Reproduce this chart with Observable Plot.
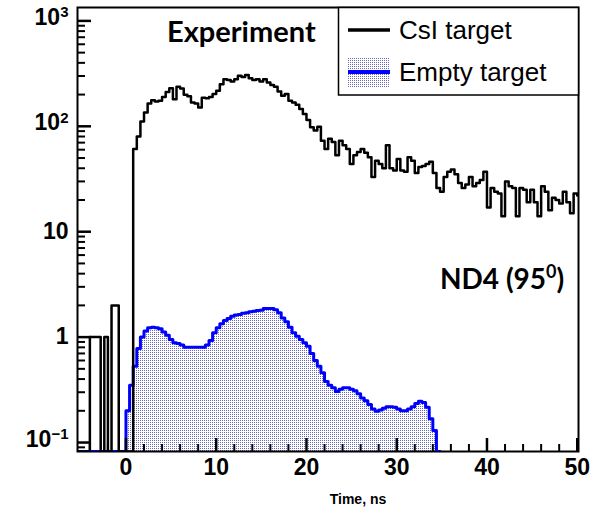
<!DOCTYPE html>
<html><head><meta charset="utf-8">
<script src="https://cdn.jsdelivr.net/npm/d3@7"></script>
<script src="https://cdn.jsdelivr.net/npm/@observablehq/plot@0.6"></script>
<style>
body{margin:0;background:#fff;}
#wrap{position:relative;width:616px;height:511px;overflow:hidden;}
</style></head><body><div id="wrap"></div>
<script>
// ---- data ----
const binWidth = 0.4; // ns
const csiFirstBin = -5.6;
const csiCounts = [
  0,0,0,0, 1,1,1,0,1,0,2,2, 0,0,0,0,
  61,80,111,135,165,177,172,175,190,212,230,181,237,228,199,193,168,165,151,187,185,190,202,217,
  250,280,275,266,280,301,294,307,286,275,280,266,280,260,247,237,214,195,202,175,168,160,
  146,131,115,98,91,99,73,61,76,71,53,73,66,61,44,53,57,61,56,51,33,47,44,40,66,40,38,49,38,37,51,47,36,41,
  42,44,46,36,26,24,33,37,39,35,29,26,28,33,27,29,31,37,17,26,24,23,14,30,27,26,14,26,25,19,
  25,19,14,27,24,16,21,20,18.5,24,19,15,23,22
];
const emptyFirstBin = -5.6;
const emptyCounts = [
  0,0,0,0,0,0,0,0,0,0,0,0,0,0,
  0.20,0.35,0.53,0.78,1.00,1.14,1.23,1.24,1.23,1.20,1.12,1.04,0.95,0.885,0.87,0.84,0.80,0.80,0.80,0.80,0.80,0.80,
  0.84,0.93,1.10,1.23,1.34,1.44,1.50,1.58,1.62,1.64,1.68,1.70,1.74,1.76,1.79,1.80,1.87,1.87,1.87,1.82,1.70,1.52,
  1.40,1.24,1.10,1.02,0.95,0.885,0.82,0.70,0.60,0.53,0.46,0.38,0.35,0.33,0.305,0.32,0.33,0.33,0.32,0.31,0.29,
  0.264,0.249,0.229,0.208,0.198,0.204,0.212,0.219,0.219,0.216,0.208,0.20,0.20,0.208,0.219,0.235,0.246,0.24,0.216,
  0.168,0.13,0
];
const seriesNames = ["CsI target", "Empty target"];
const xDomain = [-5.37, 50.14];
const yDomain = [0.0822, 1340];
const xMajorTicks = [0, 10, 20, 30, 40, 50];
const xMinorTicks = [-4,-2,2,4,6,8,12,14,16,18,22,24,26,28,32,34,36,38,42,44,46,48];
const yMajorTicks = [0.1, 1, 10, 100, 1000];
const yTickLabels = ["10^\u22121", "1", "10", "10^2", "10^3"];
const yMinorMultipliers = [2,3,4,5,6,7,8,9];
const xTitle = "Time, ns";
const labelExperiment = "Experiment";
const labelDetector = ["ND4 (95", "0", ")"];

// ---- layout ----
const W = 616, H = 511, mL = 77, mR = 38, mT = 7, mB = 60;
const plotW = W - mL - mR, plotH = H - mT - mB;

// ---- build step outlines ----
const yFloor = yDomain[0];
function steps(first, counts) {
  const pts = counts.map((v, i) => ({x: first + i * binWidth, y: Math.max(v, yFloor)}));
  pts.push({x: first + counts.length * binWidth, y: Math.max(counts[counts.length - 1], yFloor)});
  return pts;
}
const csi = steps(csiFirstBin, csiCounts);
const empty = steps(emptyFirstBin, emptyCounts);
const yMinorTicks = [0.01, 0.1, 1, 10, 100]
  .flatMap(d => yMinorMultipliers.map(m => d * m))
  .filter(v => v >= yDomain[0] && v <= yDomain[1]);

// inward tick marks, lengths given in pixels and converted to data units
const xPerPx = (xDomain[1] - xDomain[0]) / plotW;
const logPerPx = (Math.log10(yDomain[1]) - Math.log10(yDomain[0])) / plotH;
const ticksY = (ticks, len, w) => Plot.ruleY(ticks, {y: d => d, x1: () => xDomain[0], x2: () => xDomain[0] + len * xPerPx, stroke: "black", strokeWidth: w});
const ticksX = (ticks, len, w) => Plot.ruleX(ticks, {x: d => d, y1: () => yFloor, y2: () => yFloor * Math.pow(10, len * logPerPx), stroke: "black", strokeWidth: w});

const svg = Plot.plot({
  width: W, height: H,
  marginLeft: mL, marginRight: mR, marginTop: mT, marginBottom: mB,
  style: {fontFamily: "'Liberation Sans', Arial, sans-serif", background: "white", color: "black"},
  x: {domain: xDomain, label: null},
  y: {type: "log", domain: yDomain, label: null},
  marks: [
    Plot.areaY(empty, {x: "x", y1: () => yFloor, y2: "y", curve: "step-after", fill: "url(#dots)", clip: true}),
    Plot.frame({stroke: "black", strokeWidth: 2}),
    Plot.lineY(empty, {x: "x", y: "y", curve: "step-after", stroke: "#0000ff", strokeWidth: 3, clip: true}),
    Plot.lineY(csi, {x: "x", y: "y", curve: "step-after", stroke: "black", strokeWidth: 2.5, clip: true}),
    ticksY(yMajorTicks, 14, 2.5),
    ticksY(yMinorTicks, 8, 2),
    ticksX(xMajorTicks, 13, 2.5),
    ticksX(xMinorTicks, 7, 2),
    Plot.axisY({ticks: yMajorTicks, anchor: "left", tickSize: 0, tickPadding: 9,
      tickFormat: d => yTickLabels[yMajorTicks.indexOf(d)], fontSize: 23, fontWeight: "bold", label: null}),
    Plot.axisX({ticks: xMajorTicks, anchor: "bottom", tickSize: 0, tickPadding: 7,
      tickFormat: d => String(d), fontSize: 23, fontWeight: "bold", label: null})
  ]
});
document.getElementById("wrap").appendChild(svg);

// ---- post-processing: pattern, superscripts, annotations, legend ----
const ns = "http://www.w3.org/2000/svg";
const s = d3.select(svg);
const pat = s.insert("defs", ":first-child").append("pattern")
  .attr("id", "dots").attr("patternUnits", "userSpaceOnUse").attr("width", 2).attr("height", 2);
pat.append("rect").attr("width", 2).attr("height", 2).attr("fill", "white");
pat.append("rect").attr("width", 1).attr("height", 1).attr("fill", "#6a6ab8");

s.selectAll("text").each(function() {
  const t = this.textContent;
  const m = t.match(/^(\d+)\^(.+)$/);
  if (m) {
    this.textContent = m[1];
    const ts = document.createElementNS(ns, "tspan");
    ts.setAttribute("dy", "-0.5em");
    ts.setAttribute("font-size", "15");
    ts.textContent = m[2];
    this.appendChild(ts);
    d3.select(this).attr("y", 4);
  }
});

const g = s.append("g").attr("text-anchor", "start");
g.append("text").attr("x", 167).attr("y", 42)
  .attr("font-family", "Lato, 'Open Sans', sans-serif").attr("font-weight", "bold").attr("font-size", 29)
  .text(labelExperiment);
const nd = g.append("text").attr("x", 440).attr("y", 289)
  .attr("font-family", "Lato, 'Open Sans', sans-serif").attr("font-weight", "bold").attr("font-size", 28);
nd.append("tspan").text(labelDetector[0]);
nd.append("tspan").attr("dy", -11).attr("font-size", 18).text(labelDetector[1]);
nd.append("tspan").attr("dy", 11).text(labelDetector[2]);
g.append("text").attr("x", 358).attr("y", 504).attr("text-anchor", "middle")
  .attr("font-family", "'Liberation Sans', Arial, sans-serif").attr("font-weight", "bold").attr("font-size", 14)
  .text(xTitle);

// legend
const lg = g.append("g");
lg.append("rect").attr("x", 338.5).attr("y", 7.5).attr("width", 240).attr("height", 87.5)
  .attr("fill", "white").attr("stroke", "black").attr("stroke-width", 1.5);
lg.append("line").attr("x1", 348).attr("x2", 390).attr("y1", 30).attr("y2", 30)
  .attr("stroke", "black").attr("stroke-width", 3.5);
lg.append("rect").attr("x", 348).attr("y", 58).attr("width", 42).attr("height", 29).attr("fill", "url(#dots)");
lg.append("line").attr("x1", 348).attr("x2", 390).attr("y1", 72).attr("y2", 72)
  .attr("stroke", "#0000ff").attr("stroke-width", 4);
lg.append("text").attr("x", 399).attr("y", 39).attr("font-size", 26)
  .attr("font-family", "'Liberation Sans', Arial, sans-serif").text(seriesNames[0]);
lg.append("text").attr("x", 399).attr("y", 81).attr("font-size", 26)
  .attr("font-family", "'Liberation Sans', Arial, sans-serif").text(seriesNames[1]);
</script></body></html>
